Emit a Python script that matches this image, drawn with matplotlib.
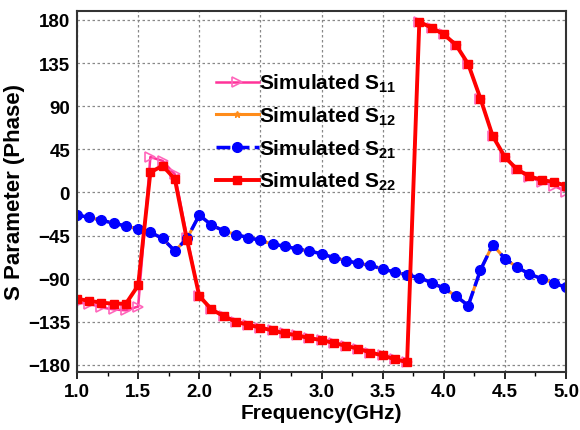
import matplotlib as mpl
mpl.use('Agg')
import matplotlib.pyplot as plt
import numpy as np

plt.rcParams['font.family'] = ['Liberation Sans', 'DejaVu Sans']
plt.rcParams['font.weight'] = 'bold'
plt.rcParams['mathtext.fontset'] = 'custom'
plt.rcParams['mathtext.bf'] = 'Liberation Sans:bold'
plt.rcParams['mathtext.rm'] = 'Liberation Sans:bold'
plt.rcParams['mathtext.default'] = 'bf'

# frequency points (GHz)
freq = [1.0, 1.1, 1.2, 1.3, 1.4, 1.5, 1.6, 1.7, 1.8, 1.9,
        2.0, 2.1, 2.2, 2.3, 2.4, 2.5, 2.6, 2.7, 2.8, 2.9,
        3.0, 3.1, 3.2, 3.3, 3.4, 3.5, 3.6, 3.7, 3.8, 3.9,
        4.0, 4.1, 4.2, 4.3, 4.4, 4.5, 4.6, 4.7, 4.8, 4.9, 5.0]

s22 = [-111, -113, -115, -116, -116, -97, 21, 28, 14, -50,
       -108, -122, -129, -135, -138, -141, -144, -147, -149, -152,
       -154, -157, -160, -163, -167, -170, -174, -177, 178, 172,
       165, 154, 134, 98, 59, 37, 24, 17, 13, 11, 7]

s11 = [-115, -116, -120, -122, -123, -119, 37, 33, 19, -47,
       -108, -122, -129, -135, -138, -141, -144, -147, -149, -152,
       -154, -157, -160, -163, -167, -170, -174, -177, 178, 172,
       165, 154, 134, 98, 59, 37, 24, 16, 11, 7, 1]

s21 = [-23.5, -26, -29, -32, -35, -38, -41.5, -48, -61, -48,
       -23.5, -34, -40, -44, -47, -50, -54, -56, -59, -61,
       -64, -68, -71, -74, -76, -80, -83, -86, -89, -94,
       -100, -108, -118, -81, -54.5, -69, -78, -85, -90, -94.5, -99]

s12 = [-23.5, -26, -29, -32, -35, -38, -41.5, -48, -61, -48,
       -23.5, -34, -40, -44, -47, -50, -54, -56, -59, -61,
       -64, -68, -71, -74, -76, -80, -83, -86, -89, -94,
       -100, -108, -118, -81, -54.5, -69, -78, -85, -90, -94.5, -99]

labels = ['Simulated S$_{11}$', 'Simulated S$_{12}$',
          'Simulated S$_{21}$', 'Simulated S$_{22}$']

fig = plt.figure(figsize=(5.8, 4.31), dpi=100)
ax = fig.add_axes([0.1328, 0.1346, 0.8431, 0.8376])

ax.plot(freq, s11, color='#ff3399', lw=1.8, marker='>', ms=7,
        mfc='none', mec='#ff66bb', mew=1.2, label=labels[0])
ax.plot(freq, s12, color='#ff8c1a', lw=2.2, marker='*', ms=5, label=labels[1])
ax.plot(freq, s21, color='#0000ff', lw=2.5, ls=(0, (4, 1.5)), marker='o', ms=7,
        label=labels[2])
ax.plot(freq, s22, color='#ff0000', lw=2.8, marker='s', ms=5.5, label=labels[3])

ax.set_xlim(1.0, 5.0)
ax.set_ylim(-187.3, 189.4)
ax.set_xticks(np.arange(1.0, 5.01, 0.5))
ax.set_xticks(np.arange(1.25, 5.0, 0.5), minor=True)
ax.set_yticks(np.arange(-180, 181, 45))
ax.tick_params(axis='x', which='major', direction='out', length=5, width=1.2, labelsize=13.5, pad=3)
ax.tick_params(axis='x', which='minor', direction='out', length=3, width=1)
ax.tick_params(axis='y', length=0, labelsize=13.5, pad=5)
ax.grid(True, which='major', ls=(0, (2, 2)), color='#888888', lw=0.9)
for sp in ax.spines.values():
    sp.set_linewidth(1.5)
    sp.set_color('#333333')

ax.set_xlabel('Frequency(GHz)', fontsize=15, fontweight='bold', labelpad=2)
ax.set_ylabel('S Parameter (Phase)', fontsize=16, fontweight='bold', labelpad=2)

leg = ax.legend(loc='upper left', bbox_to_anchor=(0.262, 0.86), frameon=False,
                fontsize=15, handlelength=2.1, handletextpad=0.0,
                labelspacing=0.5, borderpad=0)

fig.savefig('out.png', dpi=100)
